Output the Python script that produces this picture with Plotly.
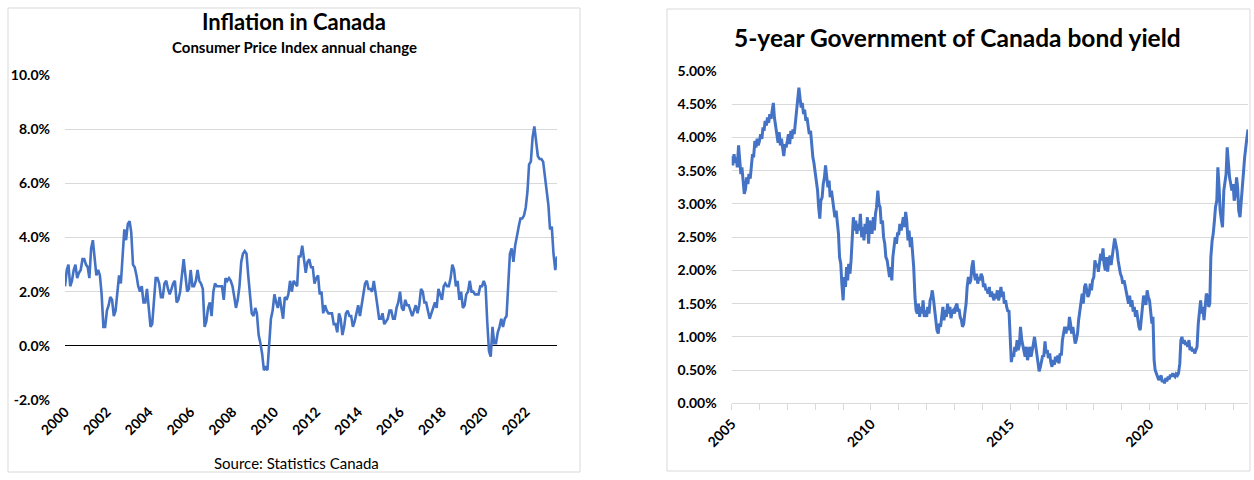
import pandas as pd
import plotly.graph_objects as go

# ---------------- data ----------------
# Canada CPI, annual % change, monthly Jan 2000 - Jul 2023
cpi_values = [
    2.2, 2.8, 3.0, 2.2, 2.4, 2.8, 3.0, 2.5, 2.7, 2.8, 3.2, 3.2,   # 2000
    3.0, 2.9, 2.5, 3.6, 3.9, 3.3, 2.6, 2.8, 2.6, 1.9, 0.7, 0.7,   # 2001
    1.3, 1.5, 1.8, 1.7, 1.1, 1.3, 2.1, 2.6, 2.3, 3.2, 4.3, 3.9,   # 2002
    4.5, 4.6, 4.2, 3.0, 2.9, 2.6, 2.2, 2.0, 2.2, 1.6, 1.6, 2.1,   # 2003
    1.3, 0.7, 0.8, 1.7, 2.5, 2.5, 2.3, 1.8, 1.8, 2.3, 2.4, 2.1,   # 2004
    1.9, 2.1, 2.3, 2.4, 1.6, 1.7, 2.0, 2.6, 3.2, 2.6, 2.0, 2.1,   # 2005
    2.8, 2.2, 2.2, 2.4, 2.8, 2.4, 2.3, 2.1, 0.7, 0.9, 1.4, 1.6,   # 2006
    1.1, 2.0, 2.3, 2.2, 2.2, 2.2, 2.2, 1.7, 2.5, 2.4, 2.5, 2.4,   # 2007
    2.2, 1.8, 1.4, 1.7, 2.2, 3.1, 3.4, 3.5, 3.4, 2.6, 2.0, 1.2,   # 2008
    1.1, 1.4, 1.2, 0.4, 0.1, -0.3, -0.9, -0.8, -0.9, 0.1, 1.0, 1.3,  # 2009
    1.9, 1.6, 1.4, 1.8, 1.4, 1.0, 1.8, 1.7, 1.9, 2.4, 2.0, 2.4,   # 2010
    2.3, 2.2, 3.3, 3.3, 3.7, 3.1, 2.7, 3.1, 3.2, 2.9, 2.9, 2.3,   # 2011
    2.5, 2.6, 1.9, 2.0, 1.2, 1.5, 1.3, 1.2, 1.2, 1.2, 0.8, 0.8,   # 2012
    0.5, 1.2, 1.0, 0.4, 0.7, 1.2, 1.3, 1.1, 1.1, 0.7, 0.9, 1.2,   # 2013
    1.5, 1.1, 1.5, 2.0, 2.3, 2.4, 2.1, 2.1, 2.0, 2.4, 2.0, 1.5,   # 2014
    1.0, 1.0, 1.2, 0.8, 0.9, 1.0, 1.3, 1.3, 1.0, 1.0, 1.4, 1.6,   # 2015
    2.0, 1.4, 1.3, 1.7, 1.5, 1.5, 1.3, 1.1, 1.3, 1.5, 1.2, 1.5,   # 2016
    2.1, 2.0, 1.6, 1.6, 1.3, 1.0, 1.2, 1.4, 1.6, 1.4, 2.1, 1.9,   # 2017
    1.7, 2.2, 2.3, 2.2, 2.2, 2.5, 3.0, 2.8, 2.2, 2.4, 1.7, 2.0,   # 2018
    1.4, 1.5, 1.9, 2.0, 2.4, 2.0, 2.0, 1.9, 1.9, 1.9, 2.2, 2.2,   # 2019
    2.4, 2.2, 0.9, -0.2, -0.4, 0.7, 0.1, 0.1, 0.5, 0.7, 1.0, 0.7,  # 2020
    1.0, 1.1, 2.2, 3.4, 3.6, 3.1, 3.7, 4.1, 4.4, 4.7, 4.7, 4.8,   # 2021
    5.1, 5.7, 6.7, 6.8, 7.7, 8.1, 7.6, 7.0, 6.9, 6.9, 6.8, 6.3,   # 2022
    5.9, 5.2, 4.3, 4.4, 3.4, 2.8, 3.3,                            # 2023
]
cpi_start = "2000-01-01"
cpi_tick_years = [2000, 2002, 2004, 2006, 2008, 2010, 2012, 2014, 2016, 2018, 2020, 2022]
cpi_tick_labels = ["-2.0%", "0.0%", "2.0%", "4.0%", "6.0%", "8.0%", "10.0%"]
cpi_tick_levels = [-2, 0, 2, 4, 6, 8, 10]

# 5-year Government of Canada bond yield, %, twice a month Jan 2005 - Jul 2023
bond_values = [
    3.72, 3.58, 3.75, 3.62, 3.70, 3.55, 3.88, 3.60, 3.45, 3.55, 3.30, 3.15,
    3.22, 3.40, 3.30, 3.45, 3.38, 3.60, 3.75, 3.70, 3.95, 3.85, 3.98, 3.88,   # 2005
    3.95, 4.05, 3.98, 4.15, 4.10, 4.25, 4.18, 4.30, 4.22, 4.35, 4.28, 4.40,
    4.52, 4.30, 4.18, 4.05, 3.92, 4.08, 3.88, 3.98, 3.80, 3.72, 3.90, 3.85,   # 2006
    3.95, 4.05, 3.90, 4.10, 3.98, 4.12, 4.05, 4.20, 4.40, 4.62, 4.75, 4.60,
    4.45, 4.52, 4.35, 4.42, 4.25, 4.30, 4.20, 4.05, 4.10, 3.85, 3.70, 3.62,   # 2007
    3.45, 3.30, 3.20, 2.95, 2.78, 3.05, 3.10, 3.30, 3.40, 3.58, 3.42, 3.25,
    3.35, 3.10, 3.20, 3.05, 2.95, 2.80, 2.90, 2.75, 2.55, 2.20, 2.10, 1.80,   # 2008
    1.55, 1.90, 1.75, 2.05, 1.85, 2.10, 1.95, 2.15, 2.55, 2.80, 2.60, 2.75,
    2.55, 2.70, 2.60, 2.85, 2.50, 2.65, 2.45, 2.70, 2.55, 2.80, 2.40, 2.75,   # 2009
    2.65, 2.55, 2.80, 2.60, 2.85, 2.95, 3.20, 3.00, 2.95, 2.70, 2.75, 2.50,
    2.40, 2.20, 2.15, 2.00, 1.90, 2.05, 1.85, 2.20, 2.35, 2.50, 2.40, 2.55,   # 2010
    2.55, 2.70, 2.60, 2.75, 2.80, 2.65, 2.88, 2.75, 2.45, 2.60, 2.35, 2.50,
    2.30, 2.05, 1.60, 1.40, 1.35, 1.50, 1.30, 1.45, 1.35, 1.55, 1.30, 1.40,   # 2011
    1.30, 1.45, 1.35, 1.55, 1.60, 1.70, 1.55, 1.40, 1.25, 1.10, 1.05, 1.20,
    1.15, 1.30, 1.45, 1.25, 1.40, 1.30, 1.50, 1.35, 1.45, 1.28, 1.38, 1.40,   # 2012
    1.35, 1.45, 1.50, 1.38, 1.42, 1.30, 1.25, 1.15, 1.20, 1.35, 1.50, 1.75,
    1.90, 1.80, 1.85, 2.05, 2.15, 1.95, 1.85, 1.95, 1.80, 1.90, 1.85, 1.95,   # 2013
    1.90, 1.75, 1.80, 1.70, 1.72, 1.65, 1.75, 1.60, 1.68, 1.62, 1.55, 1.65,
    1.58, 1.70, 1.55, 1.62, 1.75, 1.60, 1.68, 1.50, 1.55, 1.45, 1.38, 1.40,   # 2014
    0.95, 0.62, 0.75, 0.70, 0.85, 0.78, 0.95, 0.80, 0.88, 1.15, 0.95, 0.88,
    0.78, 0.70, 0.85, 0.65, 0.75, 0.85, 0.70, 0.82, 0.90, 1.00, 0.85, 0.75,   # 2015
    0.65, 0.48, 0.55, 0.62, 0.72, 0.70, 0.93, 0.75, 0.80, 0.68, 0.75, 0.62,
    0.55, 0.65, 0.58, 0.70, 0.62, 0.72, 0.60, 0.75, 0.72, 0.95, 1.10, 1.15,   # 2016
    1.05, 1.15, 1.10, 1.30, 1.20, 1.05, 1.15, 1.00, 0.90, 0.95, 1.05, 1.25,
    1.40, 1.55, 1.65, 1.50, 1.75, 1.80, 1.70, 1.60, 1.65, 1.80, 1.70, 1.85,   # 2017
    1.90, 2.15, 2.05, 2.10, 1.98, 2.10, 2.25, 2.15, 2.33, 2.10, 2.00, 2.20,
    1.98, 2.15, 2.22, 2.08, 2.25, 2.35, 2.48, 2.40, 2.30, 2.15, 2.00, 1.95,   # 2018
    1.90, 1.80, 1.85, 1.75, 1.70, 1.60, 1.50, 1.62, 1.45, 1.55, 1.38, 1.45,
    1.30, 1.40, 1.25, 1.15, 1.10, 1.30, 1.50, 1.62, 1.55, 1.48, 1.70, 1.60,   # 2019
    1.55, 1.35, 1.20, 1.30, 0.65, 0.50, 0.45, 0.40, 0.35, 0.38, 0.42, 0.32,
    0.35, 0.30, 0.38, 0.33, 0.40, 0.36, 0.43, 0.40, 0.45, 0.42, 0.40, 0.44,   # 2020
    0.42, 0.45, 0.60, 0.95, 1.00, 0.90, 0.95, 0.88, 0.92, 0.85, 0.95, 0.80,
    0.85, 0.78, 0.82, 0.75, 0.80, 0.85, 1.20, 1.40, 1.55, 1.35, 1.45, 1.25,   # 2021
    1.55, 1.65, 1.60, 1.45, 1.50, 2.20, 2.45, 2.55, 2.75, 2.95, 3.05, 3.55,
    3.25, 2.90, 2.75, 2.65, 3.20, 3.35, 3.45, 3.85, 3.55, 3.40, 3.30, 3.20,   # 2022
    3.30, 3.05, 3.15, 3.40, 3.25, 2.90, 2.80, 3.05, 3.20, 3.45, 3.70, 3.90,
    4.00, 4.12,                                                               # 2023
]
bond_start = "2005-01-01"
bond_tick_levels = [0, 0.5, 1, 1.5, 2, 2.5, 3, 3.5, 4, 4.5, 5]

# ---------------- figure ----------------
W, H = 1254, 480
BLUE = "#4472C4"
GRID = "#d9d9d9"
FONT = "Lato"

cpi_dates = pd.date_range(cpi_start, periods=len(cpi_values), freq="MS")
bond_dates = pd.date_range(bond_start, periods=len(bond_values), freq="SMS")

def px(x):
    return x / W

def py(y):
    return 1 - y / H

fig = go.Figure()
fig.add_trace(go.Scatter(x=cpi_dates, y=cpi_values, mode="lines",
                         line=dict(color=BLUE, width=2.6), xaxis="x", yaxis="y",
                         showlegend=False, hoverinfo="x+y"))
fig.add_trace(go.Scatter(x=bond_dates, y=bond_values, mode="lines",
                         line=dict(color=BLUE, width=3), xaxis="x2", yaxis="y2",
                         showlegend=False, hoverinfo="x+y"))

tickfont = dict(family=FONT, size=14, color="black", weight="bold")

fig.update_layout(
    template="none",
    width=W, height=H, autosize=False,
    margin=dict(l=0, r=0, t=0, b=0, pad=0),
    paper_bgcolor="white", plot_bgcolor="white",
    showlegend=False,
    xaxis=dict(
        domain=[px(65), px(557)],
        type="date",
        range=[cpi_dates[0], cpi_dates[-1]],
        tickvals=[pd.Timestamp(f"{y}-01-01") for y in cpi_tick_years],
        ticktext=[str(y) for y in cpi_tick_years],
        tickangle=-45, tickfont=tickfont,
        showgrid=False, zeroline=False, showline=False, ticks="",
        automargin=False, anchor="y",
    ),
    yaxis=dict(
        domain=[py(400), py(75)],
        range=[-2, 10],
        tickvals=cpi_tick_levels, ticktext=cpi_tick_labels,
        tickfont=tickfont, showgrid=True, gridcolor=GRID, gridwidth=1,
        zeroline=True, zerolinecolor="black", zerolinewidth=1.4,
        showline=False, ticks="", ticklabelstandoff=14,
        automargin=False, anchor="x",
    ),
    xaxis2=dict(
        domain=[px(731.7), px(1248)],
        type="date",
        range=[bond_dates[0], bond_dates[-1]],
        tick0="2005-01-01", dtick="M60", tickformat="%Y",
        tickangle=-45, tickfont=tickfont,
        showgrid=False, zeroline=False,
        showline=True, linecolor=GRID, linewidth=1,
        ticks="outside", ticklen=6, tickcolor=GRID,
        minor=dict(dtick="M12", ticks="outside", ticklen=6, tickcolor=GRID, showgrid=False),
        automargin=False, anchor="y2",
    ),
    yaxis2=dict(
        domain=[py(403.3), py(71)],
        range=[0, 5],
        tickvals=bond_tick_levels,
        ticktext=[f"{v:.2f}%" for v in bond_tick_levels],
        tickfont=tickfont, showgrid=True, gridcolor=GRID, gridwidth=1,
        zeroline=False, showline=False, ticks="", ticklabelstandoff=14,
        automargin=False, anchor="x2",
    ),
    shapes=[
        dict(type="rect", xref="paper", yref="paper",
             x0=px(8), x1=px(580), y0=py(472), y1=py(8),
             line=dict(color=GRID, width=1), layer="below"),
        dict(type="rect", xref="paper", yref="paper",
             x0=px(667), x1=px(1250), y0=py(471), y1=py(9),
             line=dict(color=GRID, width=1), layer="below"),
    ],
    annotations=[
        dict(text="Inflation in Canada", xref="paper", yref="paper",
             x=px(294), y=py(22), showarrow=False, xanchor="center", yanchor="middle",
             font=dict(family=FONT, size=22, color="black", weight="bold")),
        dict(text="Consumer Price Index annual change", xref="paper", yref="paper",
             x=px(294), y=py(47), showarrow=False, xanchor="center", yanchor="middle",
             font=dict(family=FONT, size=15, color="black", weight="bold")),
        dict(text="Source: Statistics Canada", xref="paper", yref="paper",
             x=px(296), y=py(463), showarrow=False, xanchor="center", yanchor="middle",
             font=dict(family=FONT, size=15, color="black")),
        dict(text="5-year Government of Canada bond yield", xref="paper", yref="paper",
             x=px(958), y=py(37), showarrow=False, xanchor="center", yanchor="middle",
             font=dict(family=FONT, size=24.5, color="black", weight="bold")),
    ],
)

fig.write_html(
    "out.html",
    config={"displayModeBar": False},
    post_script="document.body.style.margin='0';document.body.style.overflow='hidden';",
)
